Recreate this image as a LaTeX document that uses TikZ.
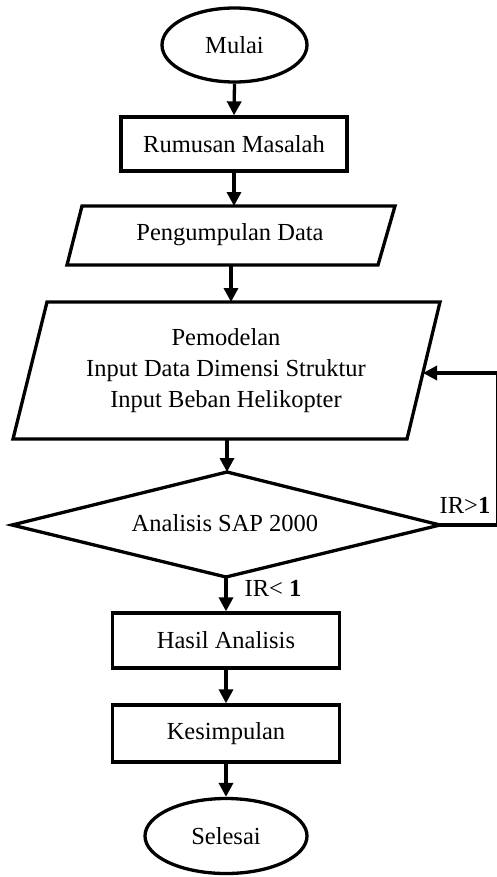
\documentclass[tikz,border=0pt]{standalone}
\usepackage{fontspec}
\setmainfont{Liberation Serif}
\usetikzlibrary{shapes.geometric,arrows.meta}
\begin{document}
\begin{tikzpicture}[x=1bp,y=-1bp,
  flowline/.style={line width=3.3bp,line join=miter},
  flowarrow/.style={line width=3.3bp,-{Triangle[length=14bp,width=14bp]}},
  terminal/.style={ellipse,draw,flowline,inner sep=0pt},
  process/.style={rectangle,draw,flowline,inner sep=0pt,minimum width=227bp,minimum height=55bp},
  txt/.style={inner sep=0pt,align=center},
  font=\fontsize{24.5bp}{31bp}\selectfont]
  \useasboundingbox (0,0) rectangle (497,877);

  % start
  \node[terminal,minimum width=145bp,minimum height=74bp] (mulai) at (234.5,45) {Mulai};
  % problem statement
  \node[process,minimum width=226bp,minimum height=54bp] (rumus) at (234,144) {Rumusan Masalah};

  % data collection (parallelogram)
  \coordinate (pgTL) at (82,206);  \coordinate (pgTR) at (395,206);
  \coordinate (pgBR) at (378,265); \coordinate (pgBL) at (67,265);
  \draw[flowline] (pgTL) -- (pgTR) -- (pgBR) -- (pgBL) -- cycle;
  \node[txt] (pgText) at (230,235) {Pengumpulan Data};
  \coordinate (pgIn) at (234,206);
  \coordinate (pgOut) at (231,265);

  % modelling input (parallelogram)
  \coordinate (pmTL) at (47,302);  \coordinate (pmTR) at (440,302);
  \coordinate (pmBR) at (407,439); \coordinate (pmBL) at (13,439);
  \draw[flowline] (pmTL) -- (pmTR) -- (pmBR) -- (pmBL) -- cycle;
  \node[txt] (pmText) at (226,371) {Pemodelan\\Input Data Dimensi Struktur\\Input Beban Helikopter};
  \coordinate (pmIn) at (231,302);
  \coordinate (pmOut) at (227,439);
  \coordinate (pmBack) at (423,373);

  % analysis decision (diamond)
  \coordinate (dTop) at (227,472);  \coordinate (dRight) at (440,525);
  \coordinate (dBot) at (226,577);  \coordinate (dLeft) at (12,525);
  \draw[flowline] (dTop) -- (dRight) -- (dBot) -- (dLeft) -- cycle;
  \node[txt] (dText) at (225,523) {Analisis SAP 2000};

  % results, conclusion, end
  \node[process] (hasil) at (226,640.5) {Hasil Analisis};
  \node[process,minimum height=57bp] (kesim) at (226,733.5) {Kesimpulan};
  \node[terminal,minimum width=162bp,minimum height=75bp] (selesai) at (226,836) {Selesai};

  % main flow
  \draw[flowarrow] (mulai.south) -- (rumus.north);
  \draw[flowarrow] (rumus.south) -- (pgIn);
  \draw[flowarrow] (pgOut) -- (pmIn);
  \draw[flowarrow] (pmOut) -- (dTop);
  \draw[flowarrow] (dBot) -- (hasil.north);
  \draw[flowarrow] (hasil.south) -- (kesim.north);
  \draw[flowarrow] (kesim.south) -- (selesai.north);

  % feedback loop, running along the right edge
  \coordinate (loopTop) at (498,373);
  \draw[flowarrow] (dRight) -| (loopTop) -- (pmBack);

  % branch labels
  \node[txt] (irBig) at (465,505) {IR>\textbf{1}};
  \node[txt] (irSmall) at (273,588) {IR< \textbf{1}};
\end{tikzpicture}
\end{document}
